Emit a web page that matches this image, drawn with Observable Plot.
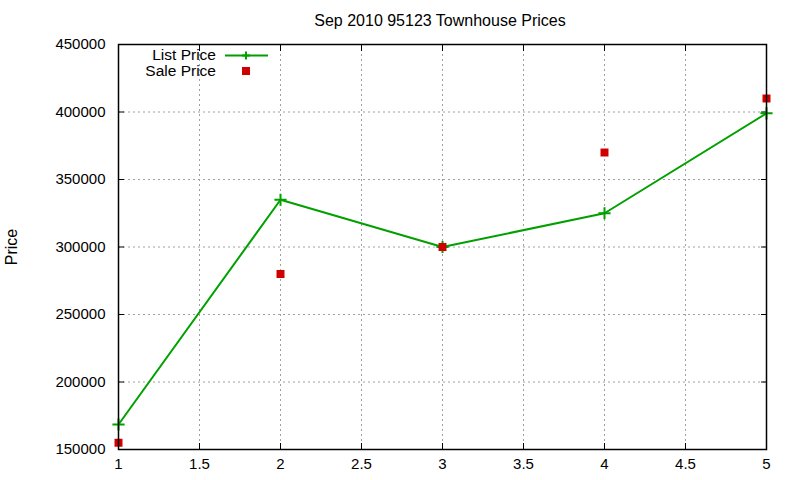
<!DOCTYPE html>
<html>
<head>
<meta charset="utf-8">
<script src="https://cdn.jsdelivr.net/npm/d3@7"></script>
<script src="https://cdn.jsdelivr.net/npm/@observablehq/plot@0.6"></script>
<style>
  html, body { margin: 0; padding: 0; background: #fff; }
  #chart svg { font-family: "Liberation Sans", Arial, sans-serif; }
  #chart svg g[aria-label$="tick label"] text { font-size: 15px !important; font-family: "Liberation Sans", Arial, sans-serif; }
</style>
</head>
<body>
<div id="chart"></div>
<script>
const title = "Sep 2010 95123 Townhouse Prices";
const yLabel = "Price";
const seriesNames = ["List Price", "Sale Price"];
const months = [1, 2, 3, 4, 5];
const listPrice = [168500, 335000, 300000, 325000, 399000];
const salePrice = [155000, 280000, 300000, 370000, 410000];
const xTicks = [1, 1.5, 2, 2.5, 3, 3.5, 4, 4.5, 5];
const yTicks = [150000, 200000, 250000, 300000, 350000, 400000, 450000];

const listData = months.map((m, i) => ({x: m, y: listPrice[i]}));
const saleData = months.map((m, i) => ({x: m, y: salePrice[i]}));

const green = "#00a000";
const red = "#d00000";
const gridStyle = {stroke: "#a0a0a0", strokeOpacity: 1, strokeDasharray: "2,3", strokeWidth: 1};

const plot = Plot.plot({
  width: 800,
  height: 480,
  marginLeft: 118,
  marginRight: 34,
  marginTop: 44,
  marginBottom: 31,
  style: {fontSize: "15px", fontFamily: "'Liberation Sans', Arial, sans-serif", color: "black", background: "white"},
  x: {domain: [1, 5]},
  y: {domain: [150000, 450000]},
  marks: [
    Plot.gridX(xTicks, gridStyle),
    Plot.gridY(yTicks, gridStyle),
    Plot.axisX({ticks: xTicks, tickSize: 0, tickPadding: 9, tickFormat: d => String(d), label: null, fontSize: 15}),
    Plot.axisY({ticks: yTicks, tickSize: 0, tickPadding: 13, tickFormat: d => String(d), label: null, fontSize: 15}),
    Plot.axisX({ticks: xTicks, tickSize: -6, tickFormat: () => "", label: null, anchor: "bottom"}),
    Plot.axisX({ticks: xTicks, tickSize: -6, tickFormat: () => "", label: null, anchor: "top"}),
    Plot.axisY({ticks: yTicks, tickSize: -6, tickFormat: () => "", label: null, anchor: "left"}),
    Plot.axisY({ticks: yTicks, tickSize: -6, tickFormat: () => "", label: null, anchor: "right"}),
    Plot.line(listData, {x: "x", y: "y", stroke: green, strokeWidth: 2}),
    Plot.dot(listData, {x: "x", y: "y", symbol: "plus", stroke: green, strokeWidth: 2, r: 4}),
    Plot.dot(saleData, {x: "x", y: "y", symbol: "square", fill: red, r: 4.5}),
    Plot.frame({stroke: "black", strokeWidth: 1.5})
  ]
});
document.getElementById("chart").appendChild(plot);

const svg = d3.select(plot);
svg.selectAll("g[aria-label$='tick label'] text").style("font-size", "15px");
const font = "'Liberation Sans', Arial, sans-serif";
svg.append("text").attr("x", 440).attr("y", 26).attr("text-anchor", "middle")
  .attr("font-size", 16).attr("font-family", font).attr("fill", "black").text(title);
svg.append("text").attr("transform", "translate(17,247) rotate(-90)").attr("text-anchor", "middle")
  .attr("font-size", 16).attr("font-family", font).attr("fill", "black").text(yLabel);

// legend
const lg = svg.append("g").attr("font-family", font).attr("font-size", 15.5).attr("fill", "black");
lg.append("text").attr("x", 216).attr("y", 60).attr("text-anchor", "end").text(seriesNames[0]);
lg.append("line").attr("x1", 225).attr("x2", 268).attr("y1", 55.5).attr("y2", 55.5).attr("stroke", green).attr("stroke-width", 2);
lg.append("path").attr("d", "M246,51.5V59.5M242,55.5H250").attr("stroke", green).attr("stroke-width", 2);
lg.append("text").attr("x", 216).attr("y", 76).attr("text-anchor", "end").text(seriesNames[1]);
lg.append("rect").attr("x", 242).attr("y", 67).attr("width", 8).attr("height", 8).attr("fill", red);
</script>
</body>
</html>
